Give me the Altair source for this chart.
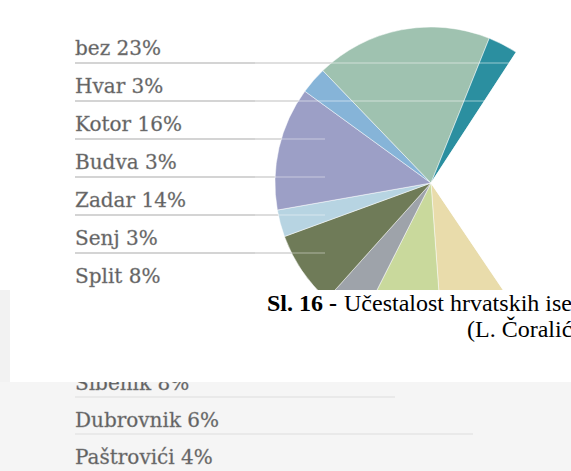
import math
import altair as alt
import pandas as pd

# ---- data ----
# pie slices, clockwise, starting at the lower-right edge of the cream slice
slice_names = ["krem", "svijetlozelena", "siva", "maslinasta", "Senj",
               "ljubičasta", "Hvar", "bez", "tirkizna", "izblijeđeno"]
slice_values = [8.3, 8.6, 4.2, 7.8, 2.8, 12.8, 2.8, 18.3, 3.1, 31.4]
slice_colors = ["#e9dcab", "#c9d99c", "#9ea3aa", "#6f7b58", "#b7d4e2",
                "#9c9fc6", "#86b4d8", "#9fc2b0", "#2b8fa0", "#ffffff"]

label_texts = ["bez 23%", "Hvar 3%", "Kotor 16%", "Budva 3%", "Zadar 14%",
               "Senj 3%", "Split 8%", "Šibenik 8%", "Dubrovnik 6%", "Paštrovići 4%"]

caption_bold = "Sl. 16 -"
caption_line1 = "Učestalost hrvatskih ise"
caption_line2 = "(L. Čoralić"

# ---- tables ----
pie_df = pd.DataFrame({"slice": slice_names, "value": slice_values,
                       "ord": list(range(len(slice_names)))})
lab_df = pd.DataFrame({"label": label_texts, "row": list(range(len(label_texts)))})
one = pd.DataFrame({"k": [0]})

start = math.radians(146)
row_scale = alt.Scale(domain=[0, 6, 7, 9], range=[55, 283, 390, 464])
Y = alt.Y("row:Q", scale=row_scale, axis=None)

lower_bg = alt.Chart(one).mark_rect(color="#f5f5f5").encode(
    x=alt.value(0), x2=alt.value(571), y=alt.value(382), y2=alt.value(471))

upper_rules = alt.Chart(lab_df).transform_filter("datum.row <= 6").mark_rule(
    color="#c6c6c6", strokeWidth=1.3, yOffset=8).encode(
    x=alt.value(75), x2=alt.value(430), y=Y)

pie = alt.Chart(pie_df).mark_arc(radius=156, stroke="#ffffff", strokeWidth=0.8,
                                 strokeOpacity=0.6).encode(
    theta=alt.Theta("value:Q", stack=True,
                    scale=alt.Scale(range=[start, start + 2 * math.pi])),
    color=alt.Color("slice:N", scale=alt.Scale(domain=slice_names, range=slice_colors),
                    legend=None),
    order=alt.Order("ord:Q"),
    x=alt.value(431), y=alt.value(183))

over_top = alt.Chart(lab_df).transform_filter("datum.row <= 1").mark_rule(
    color="#ffffff", strokeWidth=1.3, opacity=0.35, yOffset=8).encode(
    x=alt.value(255), x2=alt.value(520), y=Y)
over_mid = alt.Chart(lab_df).transform_filter("datum.row >= 2 && datum.row <= 6").mark_rule(
    color="#ffffff", strokeWidth=1.3, opacity=0.3, yOffset=8).encode(
    x=alt.value(255), x2=alt.value(325), y=Y)

labels = alt.Chart(lab_df).mark_text(
    align="left", baseline="alphabetic", font="DejaVu Serif", fontSize=20,
    color="#5e5e5e", stroke="#8a8a8a", strokeWidth=0.35).encode(
    x=alt.value(75), y=Y, text="label:N")

low_rule1 = alt.Chart(lab_df).transform_filter("datum.row == 7").mark_rule(
    color="#dedede", strokeWidth=1.2, yOffset=7).encode(
    x=alt.value(75), x2=alt.value(395), y=Y)
low_rule2 = alt.Chart(lab_df).transform_filter("datum.row == 8").mark_rule(
    color="#dedede", strokeWidth=1.2, yOffset=7).encode(
    x=alt.value(75), x2=alt.value(473), y=Y)

band = alt.Chart(one).mark_rect(color="#ffffff").encode(
    x=alt.value(0), x2=alt.value(571), y=alt.value(290), y2=alt.value(382))
strip = alt.Chart(one).mark_rect(color="#f2f2f2").encode(
    x=alt.value(0), x2=alt.value(10), y=alt.value(290), y2=alt.value(382))

cap_b = alt.Chart(one).mark_text(
    align="left", baseline="alphabetic", font="Liberation Serif", fontSize=24,
    fontWeight="bold", color="#000000", text=caption_bold).encode(
    x=alt.value(267), y=alt.value(311))
cap_1 = alt.Chart(one).mark_text(
    align="left", baseline="alphabetic", font="Liberation Serif", fontSize=24,
    color="#000000", text=caption_line1).encode(
    x=alt.value(344), y=alt.value(311))
cap_2 = alt.Chart(one).mark_text(
    align="left", baseline="alphabetic", font="Liberation Serif", fontSize=24,
    color="#000000", text=caption_line2).encode(
    x=alt.value(467), y=alt.value(337))

chart = alt.layer(
    lower_bg, upper_rules, pie, over_top, over_mid, labels,
    low_rule1, low_rule2, band, strip, cap_b, cap_1, cap_2
).properties(
    width=571, height=471, padding=0,
    autosize=alt.AutoSizeParams(type="none"),
    background="#ffffff"
).configure_view(stroke=None)

chart.save("out.html", embed_options={"renderer": "svg", "actions": False})
